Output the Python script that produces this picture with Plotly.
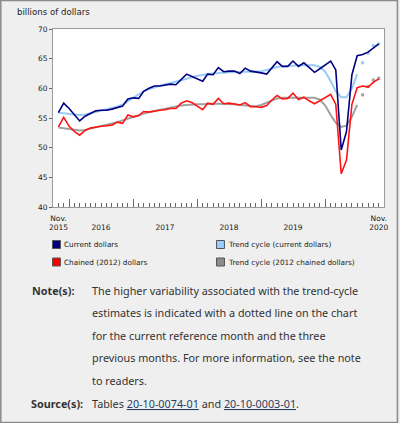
import pandas as pd
import plotly.graph_objects as go

# ---------------- data ----------------
months = pd.date_range("2015-11-01", periods=61, freq="MS")

current_dollars = [
    55.9, 57.5, 56.6, 55.6, 54.5, 55.3, 55.7, 56.2, 56.3, 56.3,
    56.5, 56.8, 57.0, 58.2, 58.4, 58.3, 59.5, 60.0, 60.4, 60.4,
    60.5, 60.7, 60.6, 61.5, 62.4, 62.0, 61.6, 61.2, 62.4, 62.3,
    63.5, 62.8, 62.9, 62.9, 62.5, 63.4, 62.9, 62.8, 62.6, 62.4,
    63.4, 64.5, 63.7, 63.7, 64.6, 63.7, 64.3, 63.5, 62.7, 63.3,
    64.0, 64.6, 63.1, 49.6, 52.7, 62.3, 65.5, 65.7, 66.1, 66.8,
    67.5,
]
chained_dollars = [
    53.5, 55.1, 53.6, 52.7, 52.1, 52.9, 53.3, 53.5, 53.6, 53.7,
    53.8, 54.3, 54.1, 55.5, 55.2, 55.4, 56.1, 56.0, 56.2, 56.3,
    56.4, 56.6, 56.6, 57.5, 57.9, 57.6, 57.0, 56.4, 57.5, 57.3,
    58.3, 57.4, 57.5, 57.4, 57.2, 57.6, 56.9, 56.9, 56.8, 57.1,
    58.0, 58.8, 58.2, 58.3, 59.2, 58.1, 58.5, 57.9, 57.4, 57.9,
    58.5, 59.0, 57.3, 45.6, 47.9, 57.3, 60.1, 60.4, 60.2, 61.0,
    61.6,
]
trend_current = [
    55.9, 55.8, 55.7, 55.6, 55.5, 55.6, 55.8, 56.0, 56.2, 56.4,
    56.6, 56.9, 57.3, 57.8, 58.4, 59.0, 59.5, 59.9, 60.2, 60.5,
    60.7, 60.9, 61.1, 61.3, 61.6, 61.9, 62.1, 62.3, 62.4, 62.5,
    62.6, 62.7, 62.7, 62.7, 62.8, 62.8, 62.8, 62.8, 62.9, 63.1,
    63.4, 63.6, 63.7, 63.8, 63.9, 63.9, 63.9, 63.9, 63.9, 63.6,
    62.8, 61.2, 59.5, 58.5, 58.5, 60.0, 62.4, 64.3, 65.9, 67.2,
    67.5,
]
trend_chained = [
    53.4, 53.3, 53.2, 53.0, 52.9, 53.0, 53.2, 53.4, 53.6, 53.8,
    54.0, 54.3, 54.6, 54.9, 55.2, 55.5, 55.8, 56.0, 56.2, 56.4,
    56.6, 56.8, 57.0, 57.1, 57.2, 57.3, 57.3, 57.3, 57.4, 57.4,
    57.4, 57.4, 57.4, 57.3, 57.2, 57.1, 57.0, 57.0, 57.2, 57.6,
    58.0, 58.3, 58.4, 58.4, 58.4, 58.4, 58.4, 58.4, 58.4, 58.1,
    57.1, 55.5, 54.2, 53.5, 53.7, 55.2, 57.2, 58.9, 60.3, 61.4,
    61.7,
]
n_provisional = 4  # last four trend-cycle points shown dotted

year_ticks = ["2016-01-01", "2017-01-01", "2018-01-01", "2019-01-01", "2020-01-01"]
label_positions = ["2015-11-01", "2016-07-01", "2017-07-01", "2018-07-01",
                   "2019-07-01", "2020-11-01"]
label_texts = ["Nov.<br>2015", " <br>2016", " <br>2017", " <br>2018",
               " <br>2019", "Nov.<br>2020"]

legend_names = ["Current dollars", "Trend cycle (current dollars)",
                "Chained (2012) dollars", "Trend cycle (2012 chained dollars)"]

NAVY = "#000080"
LIGHT = "#99ccf5"
RED = "#ff1414"
GRAY = "#a0a0a0"
legend_colors = [NAVY, "#99ccff", "#ff0000", "#8c8c8c"]

# --------------- geometry (pixels) ---------------
W, H = 400, 423
L, R, T, B = 53, 386, 29, 207


def px(x):
    return (x - L) / (R - L)


def py(y):
    return (B - y) / (B - T)


fig = go.Figure()
cut = len(months) - n_provisional

# trend cycles (solid part + dotted provisional part)
for vals, col in [(trend_current, LIGHT), (trend_chained, GRAY)]:
    fig.add_trace(go.Scatter(x=months[:cut], y=vals[:cut], mode="lines",
                             line=dict(color=col, width=2), showlegend=False,
                             hoverinfo="skip"))
    fig.add_trace(go.Scatter(x=months[cut:], y=vals[cut:], mode="markers",
                             marker=dict(color=col, size=3, symbol="square"),
                             showlegend=False, hoverinfo="skip"))

fig.add_trace(go.Scatter(x=months, y=chained_dollars, mode="lines",
                         line=dict(color=RED, width=1.6), showlegend=False))
fig.add_trace(go.Scatter(x=months, y=current_dollars, mode="lines",
                         line=dict(color=NAVY, width=1.6), showlegend=False))

# invisible trace for the label axis
fig.add_trace(go.Scatter(x=[months[0], months[-1]], y=[None, None], xaxis="x2",
                         showlegend=False, hoverinfo="skip"))

CHART_FONT = "DejaVu Sans, Verdana, sans-serif"
NOTE_FONT = "Noto Sans, Open Sans, sans-serif"

fig.update_layout(
    width=W, height=H,
    margin=dict(l=L, r=W - R, t=T, b=H - B),
    paper_bgcolor="#efefef",
    plot_bgcolor="#ffffff",
    font=dict(family=CHART_FONT, color="#222222", size=8),
    xaxis=dict(
        type="date", range=["2015-10-01", "2020-12-01"],
        showgrid=False, zeroline=False,
        showline=True, linecolor="#9a9a9a", linewidth=1, mirror=True,
        tickvals=year_ticks, ticks="inside", ticklen=8, tickcolor="#666666",
        showticklabels=False,
        minor=dict(dtick="M1", ticks="inside", ticklen=4, tickcolor="#666666",
                   showgrid=False),
    ),
    xaxis2=dict(
        type="date", range=["2015-10-01", "2020-12-01"], overlaying="x",
        side="bottom", showgrid=False, showline=False, zeroline=False,
        tickvals=label_positions, ticktext=label_texts, ticks="",
        tickfont=dict(family=CHART_FONT, size=7.5, color="#222222"),
        ticklabelstandoff=5,
    ),
    yaxis=dict(
        range=[40, 70], dtick=5, showgrid=False, zeroline=False,
        showline=True, linecolor="#9a9a9a", linewidth=1, mirror=True,
        ticks="outside", ticklen=3, tickcolor="#666666",
        tickfont=dict(family=CHART_FONT, size=7.5, color="#222222"),
    ),
    hovermode=False,
)

annotations = []
shapes = []

# outer frame
shapes.append(dict(type="rect", xref="paper", yref="paper",
                   x0=px(0.5), x1=px(W - 0.5), y0=py(H - 0.5), y1=py(0.5),
                   line=dict(color="#8a8a8a", width=1.5)))

# unit title
annotations.append(dict(text="billions of dollars", xref="paper", yref="paper",
                        x=px(15), y=py(12.5), xanchor="left", yanchor="middle",
                        showarrow=False,
                        font=dict(family=CHART_FONT, size=8.6, color="#222222")))

# legend (squares + labels)
leg_pos = [(52.5, 244.5), (217.5, 244.5), (52.5, 262), (217.5, 262)]
for name, col, (lx, ly) in zip(legend_names, legend_colors, leg_pos):
    shapes.append(dict(type="rect", xref="paper", yref="paper",
                       x0=px(lx), x1=px(lx + 8), y0=py(ly + 4), y1=py(ly - 4),
                       fillcolor=col, line=dict(color="#555555", width=1)))
    annotations.append(dict(text=name, xref="paper", yref="paper",
                            x=px(lx + 10), y=py(ly), xanchor="left",
                            yanchor="middle", showarrow=False,
                            font=dict(family=CHART_FONT, size=7.3,
                                      color="#222222")))

# notes
NOTE_SIZE = 10.8
note_lines = [
    "The higher variability associated with the trend-cycle",
    "estimates is indicated with a dotted line on the chart",
    "for the current reference month and the three",
    "previous months. For more information, see the note",
    "to readers.",
]
note_y = [290, 312.5, 335, 357.5, 380]
annotations.append(dict(text="<b>Note(s):</b>", xref="paper", yref="paper",
                        x=px(29.5), y=py(note_y[0]), xanchor="left",
                        yanchor="middle", showarrow=False,
                        font=dict(family=NOTE_FONT, size=NOTE_SIZE, color="#333333")))
for line, yy in zip(note_lines, note_y):
    annotations.append(dict(text=line, xref="paper", yref="paper",
                            x=px(90.5), y=py(yy), xanchor="left",
                            yanchor="middle", showarrow=False,
                            font=dict(family=NOTE_FONT, size=NOTE_SIZE,
                                      color="#333333")))
annotations.append(dict(text="<b>Source(s):</b>", xref="paper", yref="paper",
                        x=px(28.5), y=py(403), xanchor="left",
                        yanchor="middle", showarrow=False,
                        font=dict(family=NOTE_FONT, size=NOTE_SIZE, color="#333333")))
annotations.append(dict(
    text='Tables <span style="color:#284162"><u>20-10-0074-01</u></span> and '
         '<span style="color:#284162"><u>20-10-0003-01</u></span>.',
    xref="paper", yref="paper", x=px(90.5), y=py(403), xanchor="left",
    yanchor="middle", showarrow=False,
    font=dict(family=NOTE_FONT, size=NOTE_SIZE, color="#333333")))

fig.update_layout(annotations=annotations, shapes=shapes)

fig.write_html("out.html",
               config={"displayModeBar": False},
               post_script="document.body.style.margin='0';"
                           "document.body.style.background='#efefef';")
